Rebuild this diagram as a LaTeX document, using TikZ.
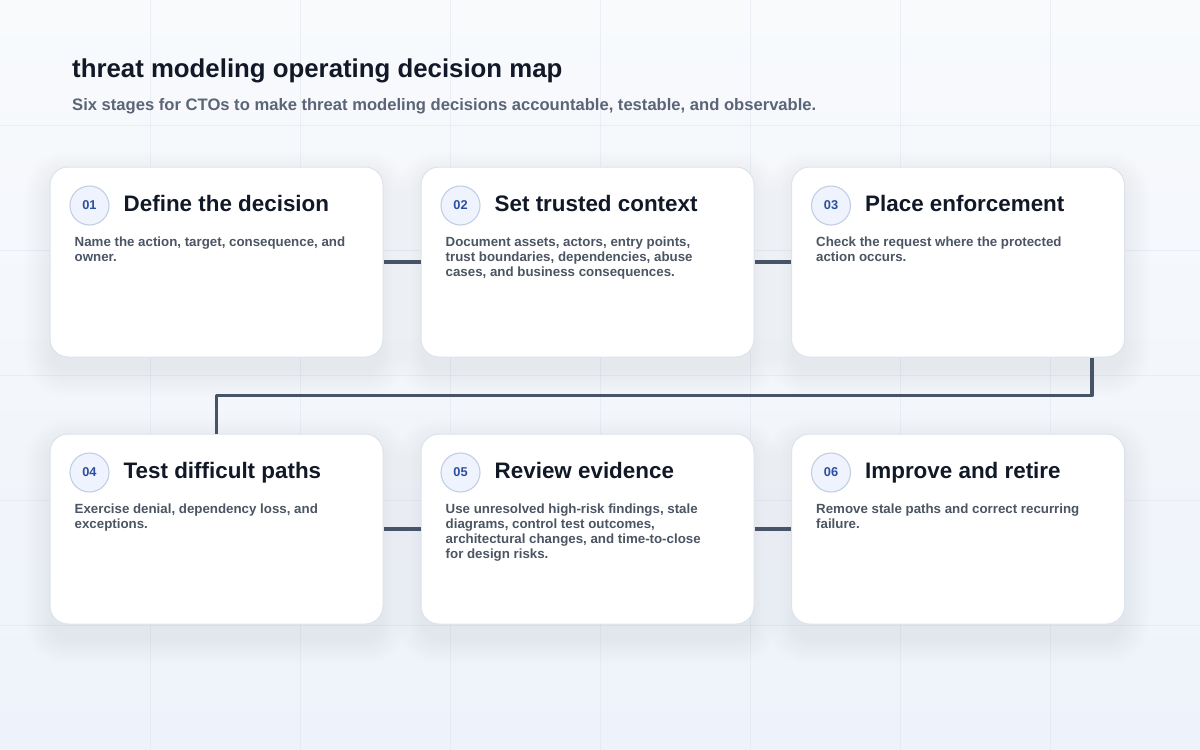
\documentclass[tikz,border=0pt]{standalone}
\usepackage{fontspec}
\setmainfont{Liberation Sans}
\usetikzlibrary{calc}
\definecolor{bgtop}{HTML}{F8FAFC}
\definecolor{bgbot}{HTML}{EEF3FB}
\definecolor{gridc}{HTML}{DCE3EE}
\definecolor{titlec}{HTML}{111827}
\definecolor{subc}{HTML}{5B6577}
\definecolor{bodyc}{HTML}{4B5563}
\definecolor{numc}{HTML}{2D4E9E}
\definecolor{cardline}{HTML}{DDE3EC}
\definecolor{circfill}{HTML}{EEF3FD}
\definecolor{circline}{HTML}{C3CEE5}
\definecolor{connc}{HTML}{475467}
\definecolor{shadowc}{HTML}{4A5C88}
\tikzset{
  gridline/.style={draw=gridc, line width=0.8pt, opacity=0.45},
  card/.style={rectangle, rounded corners=18pt, minimum width=333pt, minimum height=190pt,
    inner sep=0pt, draw=cardline, line width=1pt, fill=white},
  numcirc/.style={circle, minimum size=39pt, inner sep=0pt, fill=circfill, draw=circline,
    line width=1.1pt, text=numc, font=\fontsize{12.8}{14}\selectfont\bfseries},
  cardtitle/.style={inner sep=0pt, text=titlec, font=\fontsize{22.4}{26}\selectfont\bfseries},
  cardbody/.style={inner sep=0pt, text=bodyc, align=left, font=\fontsize{13.3}{14.8}\selectfont\bfseries},
  pagetitle/.style={inner sep=0pt, text=titlec, font=\fontsize{25.8}{30}\selectfont\bfseries},
  pagesub/.style={inner sep=0pt, text=subc, font=\fontsize{16.6}{19}\selectfont\bfseries},
  conn/.style={draw=connc, line width=3.6pt, line join=round}
}
\newcommand\stagecard[5]{%
  \foreach \i in {0,...,13}{%
    \pgfmathsetmacro\rr{18+2*\i}%
    \pgfmathsetmacro\sp{2*\i}%
    \fill[shadowc, opacity=0.0055, rounded corners=\rr pt]
      (#2-166.5-\sp, #3-95+10-\sp) rectangle (#2+166.5+\sp, #3+95+14+\sp);
  }
  \node[card] (c#1) at (#2,#3) {};
  \node[numcirc] (k#1) at ($(c#1.north west)+(40,39)$) {0#1};
  \node[cardtitle, anchor=base west] (t#1) at ($(c#1.north west)+(74,45)$) {#4};
  \node[cardbody, anchor=north west] (b#1) at ($(c#1.north west)+(25,70.5)$) {#5};
}
\begin{document}
\begin{tikzpicture}[x=1pt,y=-1pt]
\shade[top color=bgtop, bottom color=bgbot] (0,0) rectangle (1200,750);
\useasboundingbox (0,0) rectangle (1200,750);
\foreach \gx in {150,300,...,1050} \draw[gridline] (\gx,0) -- (\gx,750);
\foreach \gy in {125,250,...,625} \draw[gridline] (0,\gy) -- (1200,\gy);

\node[pagetitle, anchor=base west] (title) at (72,77) {threat modeling operating decision map};
\node[pagesub, anchor=base west] (subtitle) at (72,110) {Six stages for CTOs to make threat modeling decisions accountable, testable, and observable.};

\stagecard{1}{216.5}{262}{Define the decision}{Name the action, target, consequence, and\\owner.}
\stagecard{2}{587.5}{262}{Set trusted context}{Document assets, actors, entry points,\\trust boundaries, dependencies, abuse\\cases, and business consequences.}
\stagecard{3}{958}{262}{Place enforcement}{Check the request where the protected\\action occurs.}
\stagecard{4}{216.5}{529}{Test difficult paths}{Exercise denial, dependency loss, and\\exceptions.}
\stagecard{5}{587.5}{529}{Review evidence}{Use unresolved high-risk findings, stale\\diagrams, control test outcomes,\\architectural changes, and time-to-close\\for design risks.}
\stagecard{6}{958}{529}{Improve and retire}{Remove stale paths and correct recurring\\failure.}

\draw[conn] (c1.east) -- (c2.west);
\draw[conn] (c2.east) -- (c3.west);
\draw[conn] ([xshift=-33pt]c3.south east) -- ++(0,38) -| (c4.north);
\draw[conn] (c4.east) -- (c5.west);
\draw[conn] (c5.east) -- (c6.west);
\end{tikzpicture}
\end{document}
